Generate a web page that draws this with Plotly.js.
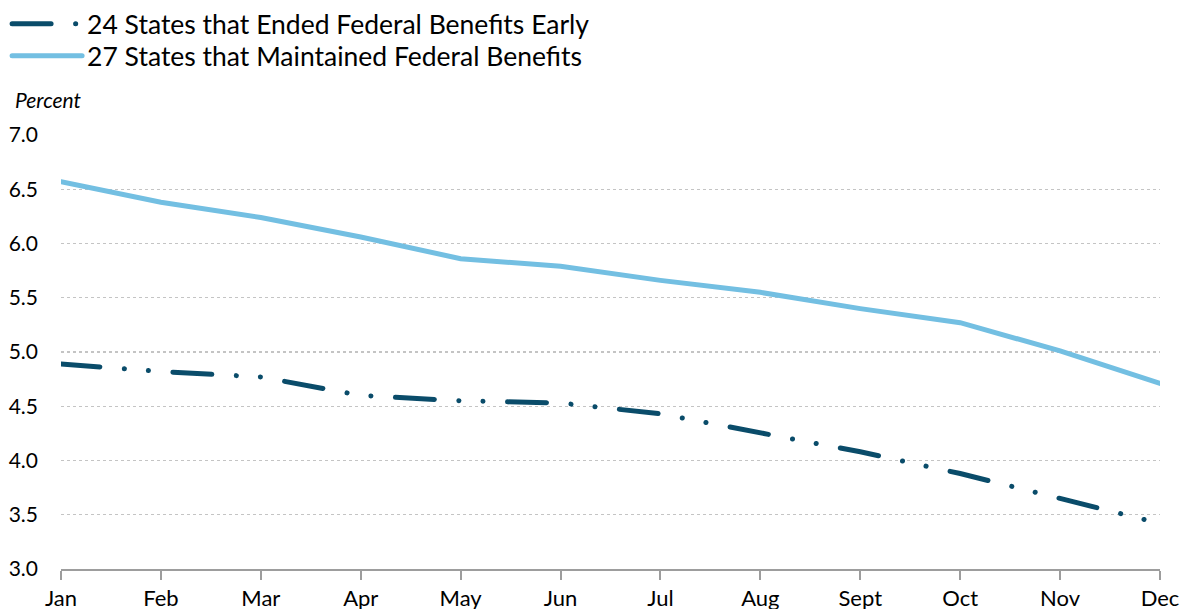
<!DOCTYPE html>
<html>
<head>
<meta charset="utf-8">
<script src="https://cdn.plot.ly/plotly-3.0.1.min.js"></script>
<style>html,body{margin:0;padding:0;background:#fff;}#chart{width:1182px;height:609px;}</style>
</head>
<body>
<div id="chart"></div>
<script>
const months = ["Jan","Feb","Mar","Apr","May","Jun","Jul","Aug","Sept","Oct","Nov","Dec"];
const endedEarly = [4.89, 4.82, 4.77, 4.60, 4.55, 4.53, 4.43, 4.26, 4.08, 3.88, 3.65, 3.42];
const maintained = [6.57, 6.38, 6.24, 6.06, 5.86, 5.79, 5.66, 5.55, 5.40, 5.27, 5.01, 4.71];
const seriesNames = ["24 States that Ended Federal Benefits Early", "27 States that Maintained Federal Benefits"];
const yTicks = [3.0, 3.5, 4.0, 4.5, 5.0, 5.5, 6.0, 6.5, 7.0];

const FONT = "Lato, 'Open Sans', sans-serif";
const traces = [
  {x: months, y: endedEarly, name: seriesNames[0], type: "scatter", mode: "lines", legend: "legend",
   line: {color: "#0a4c6a", width: 5, dash: "39px,24.5px,0.1px,24px,0.1px,24.5px"}},
  {x: months, y: maintained, name: seriesNames[1], type: "scatter", mode: "lines", legend: "legend2",
   line: {color: "#73bfe2", width: 5}}
];
const legendBase = {xref: "container", yref: "container", x: 0.006, xanchor: "left", yanchor: "top",
                    orientation: "v", itemwidth: 70, font: {size: 26.5, color: "#000"},
                    bgcolor: "rgba(0,0,0,0)"};
const layout = {
  width: 1182, height: 609,
  margin: {l: 61, r: 22, t: 135, b: 40, autoexpand: false},
  paper_bgcolor: "#fff", plot_bgcolor: "#fff",
  font: {family: FONT, size: 21, color: "#000"},
  showlegend: true,
  legend: Object.assign({}, legendBase, {y: 1.0078}),
  legend2: Object.assign({}, legendBase, {y: 0.9475}),
  xaxis: {type: "category", range: [0, 11], showgrid: false, zeroline: false,
          showline: true, linecolor: "#9d9d9d", linewidth: 2,
          ticks: "outside", ticklen: 9, tickwidth: 2, tickcolor: "#9d9d9d",
          tickfont: {size: 22}},
  yaxis: {range: [3.0, 7.0], tickvals: yTicks, ticktext: yTicks.map(v => v.toFixed(1)),
          showgrid: true, gridcolor: "#c4c4c4", griddash: "dot", gridwidth: 1.2,
          zeroline: false, showline: false, ticks: "", ticklabelstandoff: 22,
          tickfont: {size: 21}},
  annotations: [{text: "<i>Percent</i>", xref: "paper", yref: "paper", x: -0.0437, y: 1.081,
                 xanchor: "left", yanchor: "middle", showarrow: false, font: {size: 21}}]
};
Plotly.newPlot("chart", traces, layout, {displayModeBar: false, staticPlot: true}).then(gd => {
  gd.querySelectorAll("path.js-line, .legendlines path").forEach(p => p.style.strokeLinecap = "round");
});
</script>
</body>
</html>
